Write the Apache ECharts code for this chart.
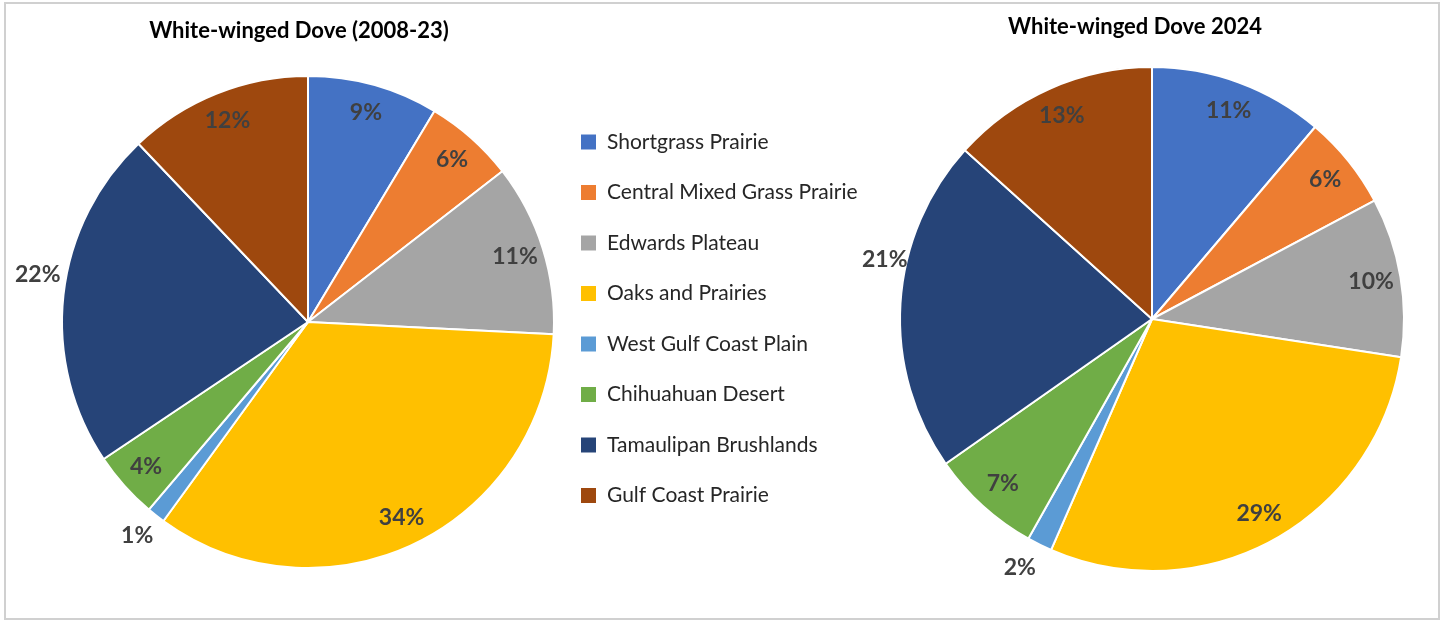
<!DOCTYPE html>
<html>
<head>
<meta charset="utf-8">
<title>White-winged Dove</title>
<script src="https://cdn.jsdelivr.net/npm/echarts@6/dist/echarts.min.js"></script>
<style>
  html, body { margin: 0; padding: 0; background: #fff; }
  #chart { width: 1442px; height: 621px; }
</style>
</head>
<body>
<div id="chart"></div>
<script>
// regions (legend order)
const regions = ['Shortgrass Prairie', 'Central Mixed Grass Prairie', 'Edwards Plateau', 'Oaks and Prairies',
  'West Gulf Coast Plain', 'Chihuahuan Desert', 'Tamaulipan Brushlands', 'Gulf Coast Prairie']
// share of birds, %
const share2008_23 = [8.6, 5.9, 11.3, 34.2, 1.2, 4.4, 22.3, 12.1]
const share2024 = [11.2, 6.0, 10.2, 29.1, 1.6, 7.1, 21.4, 13.3]
// slices whose label sits outside the pie
const outsideLabels = ['West Gulf Coast Plain', 'Tamaulipan Brushlands']

const colors = ['#4472C4', '#ED7D31', '#A5A5A5', '#FFC000', '#5B9BD5', '#70AD47', '#264478', '#9E480E']
const font = 'Lato, "Open Sans", sans-serif'

const chart = echarts.init(document.getElementById('chart'))

function slices (values) {
  return regions.map((name, i) => ({ name: name, value: values[i] }))
}

function labelItems (values) {
  return regions.map((name, i) => {
    const item = { name: name, value: values[i] }
    if (outsideLabels.indexOf(name) >= 0) {
      item.label = { position: 'outside' }
    }
    return item
  })
}

// nudges: Excel "best fit" puts the outside labels a bit off the bisector
function pieSeries (values, center, r, nudge) {
  return [{
    type: 'pie',
    center: center,
    radius: [0, r],
    startAngle: 90,
    label: { show: false },
    labelLine: { show: false },
    itemStyle: { borderColor: '#fff', borderWidth: 2 },
    emphasis: { disabled: true },
    data: slices(values)
  }, {
    // transparent ring only used to place the labels near the rim
    type: 'pie',
    center: center,
    radius: [r * 0.74, r],
    startAngle: 90,
    silent: true,
    avoidLabelOverlap: false,
    legendHoverLink: false,
    itemStyle: { color: 'transparent', borderWidth: 0 },
    emphasis: { disabled: true },
    label: {
      show: true,
      position: 'inside',
      formatter: p => Math.round(p.value) + '%',
      fontFamily: font,
      fontSize: 23,
      fontWeight: 'bold',
      color: '#404040'
    },
    labelLine: { show: false, length: 6, length2: 2 },
    labelLayout: p => nudge[regions[p.dataIndex]] || {},
    data: labelItems(values)
  }]
}

const option = {
  backgroundColor: '#fff',
  color: colors,
  animation: false,
  title: [{
    text: 'White-winged Dove (2008-23)',
    left: 299,
    top: 20,
    textAlign: 'center',
    padding: 0,
    textStyle: { fontFamily: font, fontSize: 22, fontWeight: 'bold', color: '#000' }
  }, {
    text: 'White-winged Dove 2024',
    left: 1135,
    top: 16,
    textAlign: 'center',
    padding: 0,
    textStyle: { fontFamily: font, fontSize: 22, fontWeight: 'bold', color: '#000' }
  }],
  legend: {
    orient: 'vertical',
    left: 579,
    top: 131,
    padding: 0,
    icon: 'rect',
    itemWidth: 17,
    itemHeight: 17,
    itemGap: 28.5,
    selectedMode: false,
    data: regions,
    textStyle: {
      fontFamily: font,
      fontSize: 21,
      lineHeight: 22,
      color: '#262626',
      padding: [0, 0, 0, 5]
    }
  },
  graphic: [{
    type: 'rect',
    silent: true,
    shape: { x: 5, y: 3, width: 1434, height: 616 },
    style: { fill: 'none', stroke: '#d0d0d0', lineWidth: 2 }
  }],
  series: [
    ...pieSeries(share2008_23, [308, 322], 246, {
      'West Gulf Coast Plain': { dx: 8, dy: 15 },
      'Tamaulipan Brushlands': { dx: 10, dy: -20 }
    }),
    ...pieSeries(share2024, [1152, 319], 252, {
      'West Gulf Coast Plain': { dx: 6, dy: 18 },
      'Tamaulipan Brushlands': { dx: 20, dy: -44 }
    })
  ]
}

chart.setOption(option)
</script>
</body>
</html>
